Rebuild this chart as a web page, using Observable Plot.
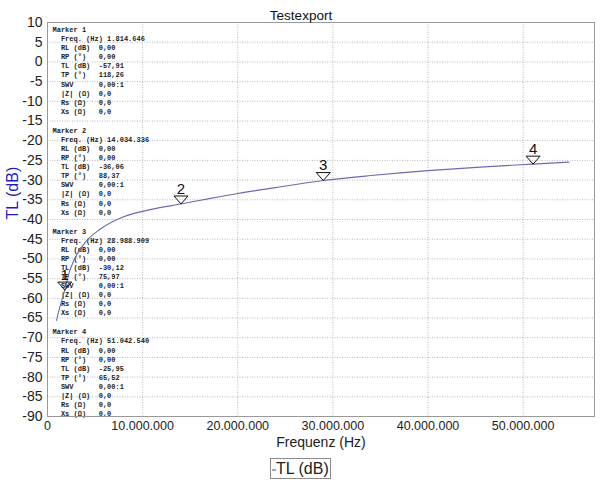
<!DOCTYPE html>
<html><head><meta charset="utf-8">
<script src="https://cdn.jsdelivr.net/npm/d3@7"></script>
<script src="https://cdn.jsdelivr.net/npm/@observablehq/plot@0.6"></script>
<style>
body{margin:0;background:#fff;font-family:Arial,"Liberation Sans",sans-serif;}
#wrap{position:relative;width:600px;height:480px;overflow:hidden;}
#legend{position:absolute;left:270px;top:458px;width:61px;height:21px;border:1px solid #8a8a8a;box-sizing:border-box;font-size:16px;line-height:19px;color:#222;white-space:nowrap;}
#legend .sw{display:inline-block;width:4px;height:2px;background:#a0a0d4;vertical-align:middle;margin:0 0 0 1px;}
</style></head><body><div id="wrap"></div>
<script>
// Curve data
const freqHz = [950000, 1300000, 1814646, 2300000, 2770000, 3800000, 5570000, 8000000, 10800000, 14034336, 17000000, 20000000, 24000000, 28988909, 34000000, 40000000, 45500000, 51042540, 54800000];
const tlDb   = [-65.6, -62.2, -57.91, -53.3, -50.4, -46.3, -42.4, -39.3, -37.5, -36.06, -34.7, -33.4, -31.9, -30.12, -28.85, -27.6, -26.7, -25.95, -25.45];

// Markers
const markerIds = ["1", "2", "3", "4"];
const markerFreq = [1814646, 14034336, 28988909, 51042540];
const markerTL = [-57.91, -36.06, -30.12, -25.95];
const markerFreqText = ["1.814.646", "14.034.336", "28.988.909", "51.042.540"];
const markerTLText = ["-57,91", "-36,06", "-30,12", "-25,95"];
const markerTPText = ["118,26", "88,37", "75,97", "65,52"];
const markerRL = "0,00", markerRP = "0,00", markerSWV = "0,00:1", markerZ = "0,0", markerRs = "0,0", markerXs = "0,0";

// Ticks
const yTicks = d3.range(-90, 11, 5);
const xTicks = [0, 10000000, 20000000, 30000000, 40000000, 50000000];

const curve = freqHz.map((f, i) => ({f, tl: tlDb[i]}));
const markers = markerIds.map((id, i) => ({id, f: markerFreq[i], tl: markerTL[i]}));

const de = d3.formatLocale({decimal: ",", thousands: ".", grouping: [3], currency: ["", ""]});
const fmtX = de.format(",d");

const S = "\u00A0";
const pad = (s, n) => s + S.repeat(Math.max(0, n - s.length));
const blocks = markerIds.map((id, i) => [
  "Marker" + S + id,
  S + S + "Freq." + S + "(Hz)" + S + markerFreqText[i],
  S + S + pad("RL" + S + "(dB)", 9) + markerRL,
  S + S + pad("RP" + S + "(°)", 9) + markerRP,
  S + S + pad("TL" + S + "(dB)", 9) + markerTLText[i],
  S + S + pad("TP" + S + "(°)", 9) + markerTPText[i],
  S + S + pad("SWV", 9) + markerSWV,
  S + S + pad("|Z|" + S + "(Ω)", 9) + markerZ,
  S + S + pad("Rs" + S + "(Ω)", 9) + markerRs,
  S + S + pad("Xs" + S + "(Ω)", 9) + markerXs
].join("\n"));

const markerSymbol = {
  draw(ctx) {
    ctx.moveTo(0, 0);
    ctx.lineTo(-7, -8);
    ctx.lineTo(7, -8);
    ctx.closePath();
  }
};

const chart = Plot.plot({
  width: 600,
  height: 456,
  marginTop: 22,
  marginBottom: 40,
  marginLeft: 47,
  marginRight: 6,
  style: {fontFamily: "Arial, 'Liberation Sans', sans-serif", fontSize: "14px", color: "#222", background: "#fff"},
  x: {domain: [0, 57500000], label: null},
  y: {domain: [-90, 10], label: null},
  marks: [
    Plot.gridX(xTicks.filter(d => d > 0), {stroke: "#b8b8b8", strokeOpacity: 1, strokeDasharray: "1,1.5"}),
    Plot.gridY(yTicks, {stroke: "#b8b8b8", strokeOpacity: 1, strokeDasharray: "1,1.5"}),
    Plot.axisY(yTicks, {tickSize: 0, tickPadding: 5, tickFormat: d => String(d), fontSize: 14, fill: "#222", label: null}),
    Plot.axisX(xTicks, {tickSize: 0, tickPadding: 5, tickFormat: fmtX, fontSize: 12.5, fill: "#222", label: null}),
    ...blocks.map((b, i) => Plot.text([b], {
      text: d => d, frameAnchor: "top-left", dx: 5, dy: 3 + i * 100.8,
      textAnchor: "start", lineAnchor: "top", lineHeight: 1.3,
      fontFamily: "'Liberation Mono', 'DejaVu Sans Mono', monospace", fontSize: 7, fill: "#222", fontWeight: "bold"
    })),
    Plot.line(curve, {x: "f", y: "tl", stroke: "#6b6bb0", strokeWidth: 1.1, curve: "monotone-x"}),
    Plot.dot(markers, {x: "f", y: "tl", symbol: markerSymbol, r: 4, fill: "white", fillOpacity: 0, stroke: "#111", strokeWidth: 1}),
    Plot.text(markers, {x: "f", y: "tl", text: "id", dy: -15, fontSize: 15, fill: "#111"}),
    Plot.frame({stroke: "#999"}),
    Plot.text(["Testexport"], {frameAnchor: "top", dx: -20, dy: -12, fontSize: 13.5, fill: "#111"}),
    Plot.text(["Frequenz (Hz)"], {frameAnchor: "bottom", dy: 30, fontSize: 14, fill: "#222"}),
    Plot.text(["TL (dB)"], {frameAnchor: "left", dx: -35, rotate: -90, fontSize: 16, fill: "#1c1cc0"})
  ]
});
const wrap = document.getElementById("wrap");
wrap.appendChild(chart);
const legend = document.createElement("div");
legend.id = "legend";
legend.innerHTML = '<span class="sw"></span>TL (dB)';
wrap.appendChild(legend);
</script>
</body></html>
